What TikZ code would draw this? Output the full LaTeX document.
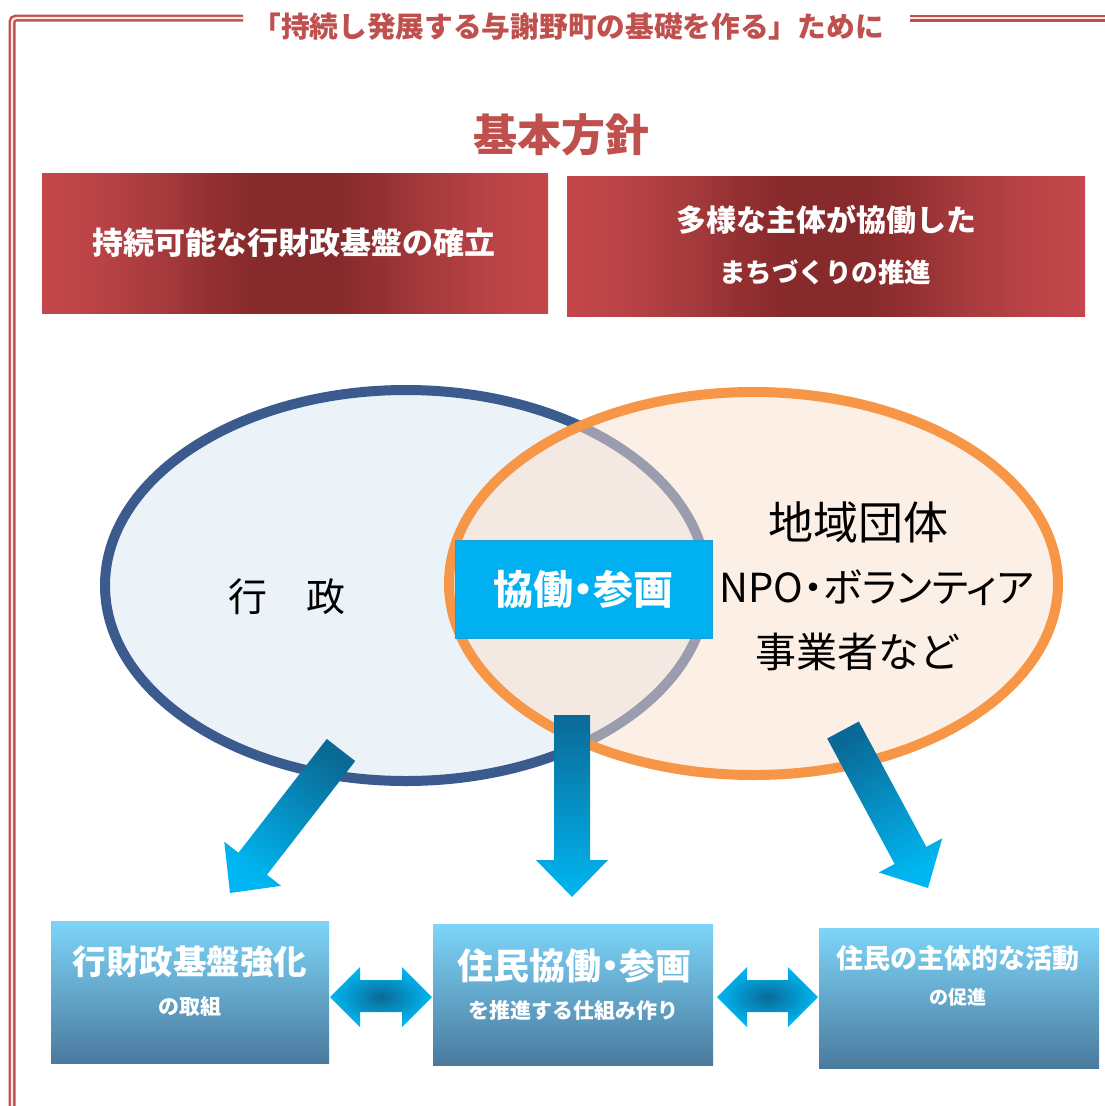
\documentclass[tikz,border=0pt]{standalone}
\usepackage{fontspec}
\newfontfamily\jp{Noto Sans CJK JP}
\newfontfamily\jpp{Noto Sans CJK JP}[RawFeature=+palt]
\usetikzlibrary{calc,shapes.geometric}
\definecolor{fr}{HTML}{C0504D}
\definecolor{frlight}{HTML}{F2C4C3}
\definecolor{reddark}{HTML}{7E2426}
\definecolor{redout}{HTML}{C4474A}
\definecolor{redA}{HTML}{B84245}
\definecolor{redB}{HTML}{A53A3C}
\definecolor{redC}{HTML}{932F31}
\definecolor{redD}{HTML}{872A2C}
\definecolor{blueline}{HTML}{3B5B8F}
\definecolor{bluefill}{HTML}{EBF3F8}
\definecolor{orangeline}{HTML}{F79646}
\definecolor{orangefill}{HTML}{FBE0CE}
\definecolor{cyanbox}{HTML}{00B0F0}
\definecolor{cyanedge}{HTML}{1C9ED6}
\definecolor{arrdark}{HTML}{0A6A96}
\definecolor{arrlight}{HTML}{00B6F2}
\definecolor{boxtop}{HTML}{7DD5F8}
\definecolor{boxbot}{HTML}{4A7A9E}
\pgfdeclarehorizontalshading{redh}{100bp}{color(0bp)=(redout); color(25bp)=(redout);
  color(31bp)=(redA); color(37bp)=(redB); color(42bp)=(redC); color(46bp)=(redD);
  color(50bp)=(redD); color(54bp)=(redD); color(58bp)=(redC); color(63bp)=(redB);
  color(69bp)=(redA); color(75bp)=(redout); color(100bp)=(redout)}
\newcommand\fsz[1]{\fontsize{#1}{#1}\selectfont}
\newcommand\blockarrow[3]{%
  \coordinate (#1h) at ($(#2)!37pt!(#1)$);
  \path[shade, top color=arrdark, bottom color=arrlight, shading angle=#3]
    ($(#1)!18pt!90:(#2)$) -- ($(#1h)!18pt!-90:(#1)$) -- ($(#1h)!36pt!-90:(#1)$)
    -- (#2) -- ($(#1h)!36pt!90:(#1)$) -- ($(#1h)!18pt!90:(#1)$)
    -- ($(#1)!18pt!-90:(#2)$) -- cycle;}
\newcommand\dblarrow[2]{%
  \path[shade, inner color=arrdark, outer color=arrlight]
    ($(#1)$) -- ($(#1)+(30,-30)$) -- ($(#1)+(30,-17)$) -- ($(#2)+(-30,-17)$)
    -- ($(#2)+(-30,-30)$) -- (#2) -- ($(#2)+(-30,30)$) -- ($(#2)+(-30,15)$)
    -- ($(#1)+(30,15)$) -- ($(#1)+(30,30)$) -- cycle;}
\newcommand\redglow[1]{%
  \path[shade, inner color=reddark, outer color=redD, opacity=0.45]
    (#1.north west) rectangle (#1.south east);}
\tikzset{
  frame/.style={fr, line width=2.4pt, double=frlight!40!white, double distance=2.2pt},
  redbox/.style={shade, shading=redh, text=white, align=center, inner sep=0pt},
  ringtext/.style={font=\jp\fsz{41}, text=black, inner sep=0pt},
  bluebox/.style={top color=boxtop, bottom color=boxbot, inner sep=0pt},
  boxmain/.style={font=\jp\bfseries, text=white, inner sep=0pt},
}
\begin{document}
\begin{tikzpicture}[x=1pt,y=-1pt]
\useasboundingbox (0,0) rectangle (1105,1106);
\fill[white] (0,0) rectangle (1105,1106);
% frame
\draw[frame, rounded corners=4pt] (243,18) -- (12,18) -- (12,1115);
\draw[frame] (910,18) -- (1115,18);
\node[font=\jp\bfseries\fsz{28.7}, text=fr, inner sep=0pt] (title) at (568,27)
  {「持続し発展する与謝野町の基礎を作る」ために};
\node[font=\jp\bfseries\fsz{44}, text=fr, inner sep=0pt] (kihon) at (561,135) {基本方針};
% red policy boxes
\node[redbox, minimum width=506pt, minimum height=140pt] (p1) at (295,243) {};
\node[redbox, minimum width=518pt, minimum height=140pt] (p2) at (826,246) {};
\node[text=white, inner sep=0pt, font=\jp\bfseries\fsz{31}] (p1a) at (294,243)
  {持続可能な行財政基盤の確立};
\node[text=white, inner sep=0pt, font=\jp\bfseries\fsz{30}] (p2a) at (826,220) {多様な主体が協働した};
\node[text=white, inner sep=0pt, font=\jp\bfseries\fsz{26.5}] (p2b) at (825,272) {まちづくりの推進};
% ellipses
\node[ellipse, draw=blueline, fill=bluefill, line width=10pt,
  minimum width=602pt, minimum height=391pt] (gov) at (406,585.5) {};
\node[ellipse, draw=orangeline, fill=orangefill, fill opacity=0.5, draw opacity=1,
  line width=10pt, minimum width=609pt, minimum height=383pt] (comm) at (753.5,583.5) {};
\node[ringtext, font=\jp\fsz{39}] (gyosei) at (287,597) {行　政};
\node[ringtext, font=\jp\fsz{45}] (t1) at (858,522) {地域団体};
\node[ringtext, font=\jpp\fsz{40}] (t2) at (877,588) {NPO・ボランティア};
\node[ringtext] (t3) at (858,652) {事業者など};
\node[fill=cyanbox, draw=cyanedge, line width=1pt, minimum width=257pt, minimum height=98pt,
  text=white, font=\jpp\bfseries\fsz{40}, inner sep=0pt] (kyo) at (583.5,589) {協働・参画};
% block arrows
\coordinate (aL) at (341,750); \coordinate (aLt) at (230,893);
\coordinate (aM) at (572,715); \coordinate (aMt) at (572,897);
\coordinate (aR) at (843,730); \coordinate (aRt) at (928,888);
\blockarrow{aL}{aLt}{-37.8}
\blockarrow{aM}{aMt}{0}
\blockarrow{aR}{aRt}{28.3}
% bottom boxes
\node[bluebox, minimum width=278pt, minimum height=142pt] (b1) at (190,992) {};
\node[bluebox, minimum width=280pt, minimum height=141pt] (b2) at (573,994.5) {};
\node[bluebox, minimum width=280pt, minimum height=140pt] (b3) at (959,998) {};
\node[boxmain, font=\jp\bfseries\fsz{33.5}] (b1a) at (190,962) {行財政基盤強化};
\node[boxmain, font=\jp\bfseries\fsz{21}] (b1b) at (190,1007) {の取組};
\node[boxmain, font=\jpp\bfseries\fsz{36}] (b2a) at (574,966) {住民協働・参画};
\node[boxmain, font=\jp\bfseries\fsz{21}] (b2b) at (573,1010) {を推進する仕組み作り};
\node[boxmain, font=\jp\bfseries\fsz{27}] (b3a) at (958,958) {住民の主体的な活動};
\node[boxmain, font=\jp\bfseries\fsz{19}] (b3b) at (958,997) {の促進};
% double arrows
\coordinate (d1l) at (330,997); \coordinate (d1r) at (432,997);
\coordinate (d2l) at (717,997); \coordinate (d2r) at (818,997);
\dblarrow{d1l}{d1r}
\dblarrow{d2l}{d2r}
\end{tikzpicture}
\end{document}
